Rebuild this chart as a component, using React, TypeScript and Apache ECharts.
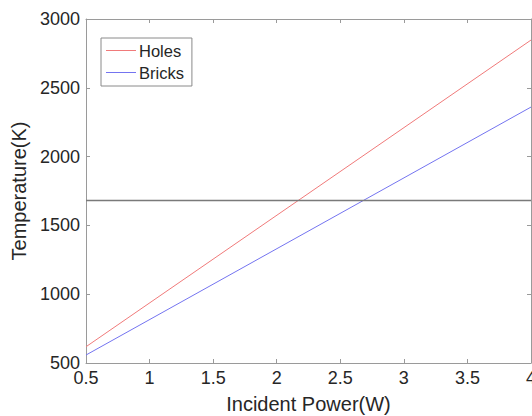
import React, { useEffect, useRef } from "react";
import * as echarts from "echarts";

const seriesNames = ["Holes", "Bricks"];
const holesData: [number, number][] = [
  [0.5, 618],
  [4, 2847],
];
const bricksData: [number, number][] = [
  [0.5, 558],
  [4, 2360],
];
const meltingPoint = 1685;
const xTicks = { min: 0.5, max: 4, interval: 0.5 };
const yTicks = { min: 500, max: 3000, interval: 500 };

const FONT = "'Liberation Sans', Arial, Helvetica, sans-serif";
const AXIS_COLOR = "#9a9a9a";
const TEXT_COLOR = "#262626";

export default function App() {
  const ref = useRef<HTMLDivElement>(null);
  useEffect(() => {
    if (!ref.current) return;
    const chart = echarts.init(ref.current, undefined, { renderer: "svg" });
    const axisCommon = {
      axisLine: { show: true, lineStyle: { color: AXIS_COLOR, width: 1 } },
      axisTick: { show: true, inside: true, length: 4, lineStyle: { color: AXIS_COLOR } },
      splitLine: { show: false },
    };
    chart.setOption({
      animation: false,
      backgroundColor: "#ffffff",
      textStyle: { fontFamily: FONT },
      grid: {
        left: 86,
        top: 19,
        width: 445,
        height: 344,
        containLabel: false,
        outerBoundsMode: "none",
      },
      legend: {
        show: true,
        orient: "vertical",
        left: 101,
        top: 38,
        data: seriesNames.map((n) => ({ name: n, icon: "rect" })),
        itemWidth: 30,
        itemHeight: 1,
        itemGap: 5,
        padding: [4, 8, 5, 5],
        borderColor: "#8a8a8a",
        borderWidth: 1,
        backgroundColor: "#ffffff",
        textStyle: { fontFamily: FONT, fontSize: 16.5, color: TEXT_COLOR, padding: [0, 0, 0, -2] },
      },
      xAxis: [
        {
          type: "value",
          position: "bottom",
          min: xTicks.min,
          max: xTicks.max,
          interval: xTicks.interval,
          name: "Incident Power(W)",
          nameLocation: "middle",
          nameGap: 31,
          nameTextStyle: { fontFamily: FONT, fontSize: 20, color: TEXT_COLOR },
          axisLabel: { fontFamily: FONT, fontSize: 18, color: TEXT_COLOR, margin: 6 },
          ...axisCommon,
        },
        {
          type: "value",
          position: "top",
          min: xTicks.min,
          max: xTicks.max,
          interval: xTicks.interval,
          axisLabel: { show: false },
          ...axisCommon,
        },
      ],
      yAxis: [
        {
          type: "value",
          position: "left",
          min: yTicks.min,
          max: yTicks.max,
          interval: yTicks.interval,
          name: "Temperature(K)",
          nameLocation: "middle",
          nameGap: 50,
          nameTextStyle: { fontFamily: FONT, fontSize: 20, color: TEXT_COLOR },
          axisLabel: {
            fontFamily: FONT,
            fontSize: 18,
            color: TEXT_COLOR,
            margin: 6,
            formatter: (v: number) => String(v),
          },
          ...axisCommon,
        },
        {
          type: "value",
          position: "right",
          min: yTicks.min,
          max: yTicks.max,
          interval: yTicks.interval,
          axisLabel: { show: false },
          ...axisCommon,
        },
      ],
      series: [
        {
          name: seriesNames[0],
          type: "line",
          data: holesData,
          showSymbol: false,
          symbol: "none",
          color: "#f07a7a",
          lineStyle: { color: "#f07a7a", width: 1 },
          markLine: {
            silent: true,
            symbol: "none",
            label: { show: false },
            lineStyle: { color: "#7a7a7a", width: 1.3, type: "solid" },
            data: [{ yAxis: meltingPoint }],
          },
        },
        {
          name: seriesNames[1],
          type: "line",
          data: bricksData,
          showSymbol: false,
          symbol: "none",
          color: "#7474f0",
          lineStyle: { color: "#7474f0", width: 1 },
        },
      ],
    });
    return () => chart.dispose();
  }, []);
  return (
    <div
      ref={ref}
      style={{ position: "absolute", left: 0, top: 0, width: 532, height: 416, background: "#fff" }}
    />
  );
}
